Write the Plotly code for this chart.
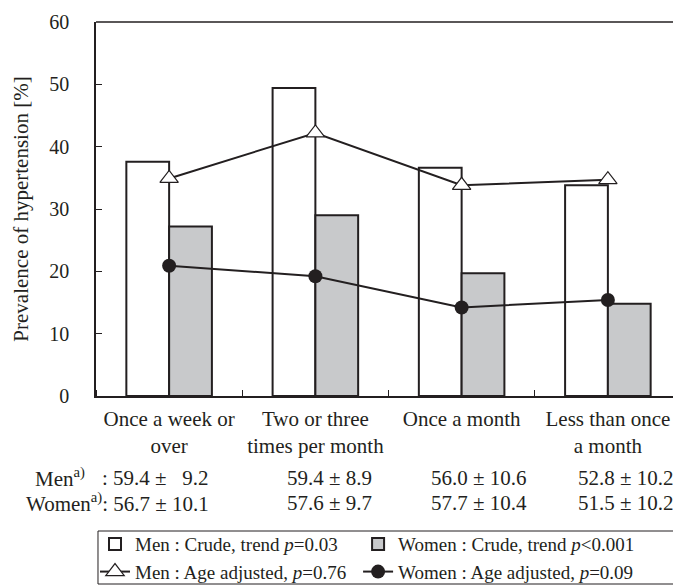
import plotly.graph_objects as go

categories = ["Once a week or<br>over", "Two or three<br>times per month", "Once a month", "Less than once<br>a month"]
men_crude = [37.6, 49.4, 36.6, 33.8]
women_crude = [27.2, 29.0, 19.7, 14.8]
men_adj = [34.9, 42.2, 33.8, 34.7]
women_adj = [20.9, 19.2, 14.2, 15.4]
men_age = [": 59.4 ± \u20079.2", "59.4 ± 8.9", "56.0 ± 10.6", "52.8 ± 10.2"]
women_age = ["56.7 ± 10.1", "57.6 ± 9.7", "57.7 ± 10.4", "51.5 ± 10.2"]
y_ticks = [0, 10, 20, 30, 40, 50, 60]

FONT = "Liberation Serif"
TXT = "#231f20"
FS = 21
xs = list(range(len(categories)))

fig = go.Figure()
fig.add_trace(go.Bar(x=xs, y=men_crude, name="Men : Crude, trend <i>p</i>=0.03",
                     marker=dict(color="white", line=dict(color=TXT, width=2)),
                     offsetgroup="m", legend="legend"))
fig.add_trace(go.Bar(x=xs, y=women_crude, name="Women : Crude, trend <i>p</i><0.001",
                     marker=dict(color="#c8c9cb", line=dict(color=TXT, width=2)),
                     offsetgroup="w", legend="legend2"))
fig.add_trace(go.Scatter(x=xs, y=men_adj, name="Men : Age adjusted, <i>p</i>=0.76",
                         mode="lines+markers", line=dict(color=TXT, width=2),
                         marker=dict(symbol="triangle-up", size=16, color="white",
                                     line=dict(color=TXT, width=1.2)),
                         legend="legend"))
fig.add_trace(go.Scatter(x=xs, y=women_adj, name="Women : Age adjusted, <i>p</i>=0.09",
                         mode="lines+markers", line=dict(color=TXT, width=2),
                         marker=dict(symbol="circle", size=14, color=TXT),
                         legend="legend2"))

leg_common = dict(orientation="v", y=-0.345, xanchor="left", yanchor="top",
                  borderwidth=0, bgcolor="rgba(0,0,0,0)",
                  font=dict(family=FONT, size=19, color=TXT),
                  traceorder="normal", itemwidth=30, tracegroupgap=0)

# the page body adds an 8px margin, so the figure is 8px smaller than the window
fig.update_layout(
    width=673, height=578,
    margin=dict(l=88, r=0, t=14, b=190, autoexpand=False),
    paper_bgcolor="white", plot_bgcolor="white",
    font=dict(family=FONT, size=FS, color=TXT),
    barmode="group", bargap=0.415, bargroupgap=0,
    showlegend=True,
    legend=dict(x=-0.0017, **leg_common),
    legend2=dict(x=0.448, **leg_common),
)
fig.update_xaxes(
    range=[-0.5, 3.5], tickvals=xs, ticktext=categories, ticks="", automargin=False,
    showline=True, linecolor=TXT, linewidth=1.5, showgrid=False, zeroline=False,
    ticklabelstandoff=3,
    tickfont=dict(family=FONT, size=FS, color=TXT),
    minor=dict(tick0=0.5, dtick=1, ticks="inside", ticklen=6, tickcolor=TXT, showgrid=False),
)
fig.update_yaxes(
    range=[0, 60], tickvals=y_ticks, ticks="inside", ticklen=6, tickcolor=TXT,
    showline=True, linecolor=TXT, linewidth=1.5, showgrid=False, zeroline=False,
    mirror=False, ticklabelstandoff=21, automargin=False,
    title=dict(text="Prevalence of hypertension [%]", standoff=15,
               font=dict(family=FONT, size=FS, color=TXT)),
    tickfont=dict(family=FONT, size=20, color=TXT),
)
# top border line
fig.add_shape(type="line", xref="paper", yref="paper", x0=0, x1=1, y0=1, y1=1,
              line=dict(color=TXT, width=1.5))
# legend frame
fig.add_shape(type="rect", xref="paper", yref="paper", x0=0.0034, x1=0.9915,
              y0=-0.361, y1=-0.5027, line=dict(color=TXT, width=1),
              fillcolor="rgba(0,0,0,0)")

# age rows below the axis
y_men, y_women = -0.219, -0.286
x_first = 0.1966
col_x = [0.323, 0.569, 0.8205]
fig.add_annotation(xref="paper", yref="paper", x=x_first, y=y_men, text=men_age[0],
                   showarrow=False, xanchor="right", yanchor="middle",
                   font=dict(family=FONT, size=FS, color=TXT))
fig.add_annotation(xref="paper", yref="paper", x=x_first, y=y_women,
                   text="Women<sup>a)</sup>: " + women_age[0],
                   showarrow=False, xanchor="right", yanchor="middle",
                   font=dict(family=FONT, size=FS, color=TXT))
for i in range(1, 4):
    fig.add_annotation(xref="paper", yref="paper", x=col_x[i - 1], y=y_men,
                       text=men_age[i], showarrow=False, xanchor="left", yanchor="middle",
                       font=dict(family=FONT, size=FS, color=TXT))
    fig.add_annotation(xref="paper", yref="paper", x=col_x[i - 1], y=y_women,
                       text=women_age[i], showarrow=False, xanchor="left", yanchor="middle",
                       font=dict(family=FONT, size=FS, color=TXT))
fig.add_annotation(xref="paper", yref="paper", x=-0.1077, y=y_men, text="Men<sup>a)</sup>",
                   showarrow=False, xanchor="left", yanchor="middle",
                   font=dict(family=FONT, size=FS, color=TXT))

fig.write_html("out.html")
